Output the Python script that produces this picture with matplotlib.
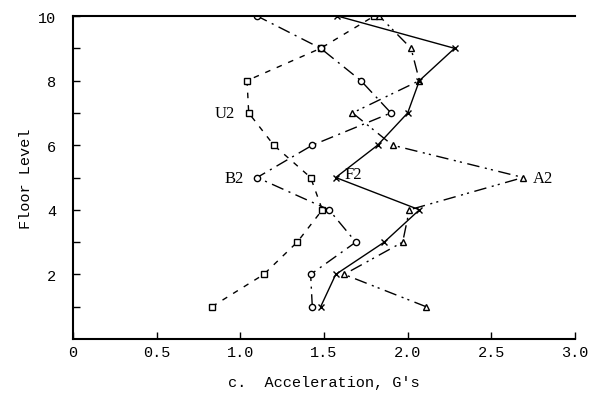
import matplotlib
matplotlib.use("Agg")
import matplotlib.pyplot as plt
import numpy as np

floors = [1, 2, 3, 4, 5, 6, 7, 8, 9, 10]
u2 = [0.83, 1.14, 1.34, 1.49, 1.42, 1.20, 1.05, 1.04, 1.48, 1.80]
b2 = [1.43, 1.42, 1.69, 1.53, 1.10, 1.43, 1.90, 1.72, 1.48, 1.10]
f2 = [1.48, 1.57, 1.86, 2.07, 1.57, 1.82, 2.00, 2.07, 2.28, 1.58]
a2 = [2.11, 1.62, 1.97, 2.01, 2.69, 1.91, 1.67, 2.07, 2.02, 1.83]

mono = "Liberation Mono"
serif = "Liberation Serif"

fig = plt.figure(figsize=(5.91, 4.10), dpi=100)
ax = fig.add_axes([0.1235, 0.1707, 0.8495, 0.7878])

kw = dict(color="black", lw=1.0, ms=4.5, mfc="white", mew=1.0)
ax.plot(u2, floors, linestyle=(0, (4, 5)), marker="s", **kw)
ax.plot(b2, floors, linestyle=(0, (9, 4, 1.5, 4)), marker="o", **kw)
ax.plot(a2, floors, linestyle=(0, (9, 4, 1.5, 3, 1.5, 4)), marker="^", **kw)
ax.plot(f2, floors, linestyle="-", marker="x", **kw)

ax.text(u2[6] - 0.08, 7, "U2", fontsize=12, family=serif, ha="right", va="center")
ax.text(b2[4] - 0.08, 5, "B2", fontsize=12, family=serif, ha="right", va="center")
ax.text(f2[4] + 0.05, 5.1, "F2", fontsize=12, family=serif, ha="left", va="center")
ax.text(a2[4] + 0.06, 5, "A2", fontsize=12, family=serif, ha="left", va="center")

ax.set_xlim(0, 3.0)
ax.set_ylim(0, 10)
ax.set_xticks(np.arange(0, 3.01, 0.5))
ax.set_xticklabels(["0", "0.5", "1.0", "1.5", "2.0", "2.5", "3.0"])
ax.set_yticks(range(1, 11))
ax.set_yticklabels(["" if i % 2 else str(i) for i in range(1, 11)])
ax.tick_params(direction="in", length=5, width=1.0, labelsize=11)
ax.tick_params(axis="x", pad=4)
ax.tick_params(axis="y", pad=12)
for lab in ax.get_xticklabels() + ax.get_yticklabels():
    lab.set_family(mono)

ax.spines["right"].set_visible(False)
for s in ["left", "bottom", "top"]:
    ax.spines[s].set_linewidth(1.5)

ax.set_ylabel("Floor Level", family=mono, fontsize=11, labelpad=4)
ax.set_xlabel("c.  Acceleration, G's", family=mono, fontsize=11, labelpad=12)

fig.savefig("out.png", dpi=100)
